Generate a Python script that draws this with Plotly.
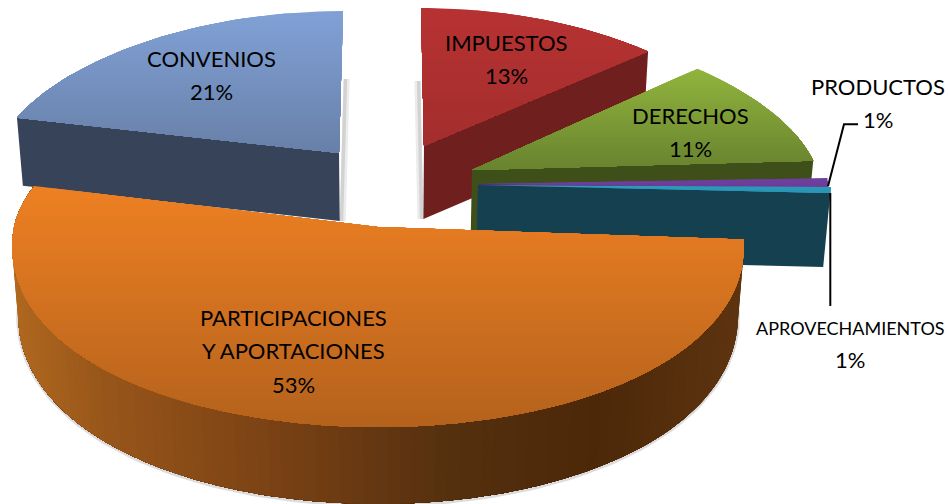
import math
import plotly.graph_objects as go

# ---- data ----
categories = ["IMPUESTOS", "DERECHOS", "PRODUCTOS", "APROVECHAMIENTOS", "PARTICIPACIONES Y APORTACIONES", "CONVENIOS"]
values = [13, 11, 1, 1, 53, 21]
label_lines = [["IMPUESTOS"], ["DERECHOS"], ["PRODUCTOS"], ["APROVECHAMIENTOS"],
               ["PARTICIPACIONES", "Y APORTACIONES"], ["CONVENIOS"]]

# ---- drawing style / projection parameters ----
W, H = 949, 504
VX = 385          # vanishing x of vertical edges
Q = 0.016         # lean of vertical edges
GEOM = [
    dict(ax=424, ay=146, R=333, ryb=138, ryf=138, p=.10, lean=-3, tilt=0, d=73, top=("#b73232", "#a32e2d"), wall="#6f1f1e", edge=1, shadow=-1),
    dict(ax=472, ay=170, R=345, ryb=148, ryf=148, p=.12, lean=-8, tilt=0, d=70, top=("#90b43d", "#69832f"), wall="#3f4f1a", edge=1, shadow=0),
    dict(ax=478, ay=184, R=350, ryb=143, ryf=143, p=0, lean=0, tilt=3, d=70, top=("#7040a0", "#6a3c98"), wall="#4f2d75", edge=1, shadow=0),
    dict(ax=478, ay=185, R=353, ryb=95, ryf=95, p=0, lean=0, tilt=2, d=74, top=("#2c9cbc", "#2a94b2"), wall="#144050", edge=1, shadow=0),
    dict(ax=378, ay=227, R=364, ryb=165, ryf=200, p=.10, lean=0, tilt=0, d=68, top=("#ee8022", "#b4621d"), wall=None, edge=None, shadow=0),
    dict(ax=339, ay=153, R=342, ryb=142, ryf=142, p=.10, lean=4, tilt=0, d=68, top=("#81a1d6", "#6880a8"), wall="#364359", edge=0, shadow=1),
]
DRAW_ORDER = [5, 0, 1, 2, 3, 4]
LABEL_POS = {0: (506, 42), 1: (690, 115), 2: (878, 86), 3: (850, 328), 4: (293, 317), 5: (211, 58)}
LABEL_SIZE = {3: 18}
LABEL_FONT = "Lato"
SIDE_STOPS = [(0.0, "#b0681f"), (0.12, "#98561a"), (0.35, "#7b4214"), (0.6, "#54300f"), (0.8, "#4c2809"), (1.0, "#5e3410")]


def hex2rgb(c):
    return tuple(int(c[i:i + 2], 16) for i in (1, 3, 5))


def mix(a, b, t):
    ra, rb = hex2rgb(a), hex2rgb(b)
    return "#%02x%02x%02x" % tuple(round(ra[i] + (rb[i] - ra[i]) * t) for i in range(3))


def stops(t):
    for (t0, c0), (t1, c1) in zip(SIDE_STOPS, SIDE_STOPS[1:]):
        if t <= t1:
            return mix(c0, c1, (t - t0) / (t1 - t0))
    return SIDE_STOPS[-1][1]


def rim(g, deg):
    th = math.radians(deg)
    s, c = math.sin(th), math.cos(th)
    x = g["ax"] + g["R"] * s * (1 - g["p"] * c) + g["lean"] * c
    y = g["ay"] - (g["ryb"] if c > 0 else g["ryf"]) * c + g["tilt"] * s
    return x, y


def down(pt, d):
    return pt[0] + (VX - pt[0]) * Q, pt[1] + d


def clip_below(poly, y0):
    out = []
    for i, p in enumerate(poly):
        q = poly[i - 1]
        if (p[1] >= y0) != (q[1] >= y0):
            out.append((q[0] + (p[0] - q[0]) * (y0 - q[1]) / (p[1] - q[1]), y0))
        if p[1] >= y0:
            out.append(p)
    return out


fig = go.Figure()


def fill(poly, color, name):
    xs = [p[0] for p in poly] + [poly[0][0]]
    ys = [p[1] for p in poly] + [poly[0][1]]
    fig.add_trace(go.Scatter(x=xs, y=ys, mode="lines", fill="toself", fillcolor=color,
                             line=dict(width=0), hoverinfo="skip",
                             showlegend=False, name=name))


# angles from the values, clockwise from twelve o'clock
total = sum(values)
bounds = [0.0]
for v in values:
    bounds.append(bounds[-1] + v / total * 360)

for i in DRAW_ORDER:
    g = GEOM[i]
    a0, a1 = bounds[i], bounds[i + 1]
    n = max(4, int((a1 - a0) / 1.5))
    angs = [a0 + (a1 - a0) * k / n for k in range(n + 1)]
    apex = (g["ax"], g["ay"])
    arc = [rim(g, a) for a in angs]

    if g["shadow"]:
        # soft grey edge next to the hidden cut face
        p = arc[0] if g["shadow"] < 0 else arc[-1]
        b0, b1 = down(p, g["d"]), down(apex, g["d"])
        for wid, col in ((6, "#ececec"), (3.5, "#d2d2d2")):
            off = wid * g["shadow"]
            fill([b0, b1, (b1[0] + off, b1[1]), (b0[0] + off, b0[1])], col, categories[i] + " shadow")

    if g["edge"] is not None:
        # the straight cut face looking at the viewer
        p = arc[-1] if g["edge"] == 1 else arc[0]
        fill([apex, p, down(p, g["d"]), down(apex, g["d"])], g["wall"], categories[i] + " wall")
    else:
        # the rounded outer wall, painted as overlapping bands
        steps = 110
        fine = [a0 + (a1 - a0) * k / steps for k in range(steps + 1)]
        pts = [rim(g, a) for a in fine]
        xmin, xmax = min(p[0] for p in pts), max(p[0] for p in pts)
        depth = [g["d"] - 9 * math.cos(math.radians(a)) for a in fine]
        low = [down(p, d) for p, d in zip(pts, depth)]
        fig.add_trace(go.Scatter(x=[p[0] for p in low], y=[p[1] + 1 for p in low], mode="lines",
                                 line=dict(color="#dcdcdc", width=4), hoverinfo="skip", showlegend=False))
        for k in range(steps):
            t = ((pts[k][0] + pts[k + 1][0]) / 2 - xmin) / (xmax - xmin)
            fill(pts[k:] + low[k:][::-1], stops(t), categories[i] + " wall")

    # top face, shaded by overlapping strips from top to bottom
    poly = [apex] + arc
    ymin, ymax = min(p[1] for p in poly), max(p[1] for p in poly)
    strips = max(1, int((ymax - ymin) / 2.5))
    for k in range(strips):
        y0 = ymin + (ymax - ymin) * k / strips
        part = clip_below(poly, y0) if k else poly
        if len(part) >= 3:
            fill(part, mix(g["top"][0], g["top"][1], (k + .5) / strips), categories[i])

# leader lines, anchored on the rim of their small slices
p2 = rim(GEOM[2], (bounds[2] + bounds[3]) / 2 + 1.5)
fig.add_trace(go.Scatter(x=[p2[0], p2[0] + 16, p2[0] + 30], y=[p2[1], p2[1] - 62, p2[1] - 62], mode="lines",
                         line=dict(color="#000000", width=2), hoverinfo="skip", showlegend=False))
p3 = rim(GEOM[3], bounds[4])
fig.add_trace(go.Scatter(x=[p3[0], p3[0]], y=[p3[1], p3[1] + 113], mode="lines",
                         line=dict(color="#000000", width=2), hoverinfo="skip", showlegend=False))

LINE_H = 33.5
for i, lines in enumerate(label_lines):
    x, y = LABEL_POS[i]
    rows = lines + [f"{round(values[i] / total * 100)}%"]
    for r, txt in enumerate(rows):
        size = LABEL_SIZE.get(i, 22) if r < len(rows) - 1 else 22
        fig.add_annotation(x=x, y=y + r * LINE_H if i != 3 else y + r * 31, text=txt, showarrow=False,
                           xanchor="center", yanchor="middle", xref="x", yref="y",
                           font=dict(family=LABEL_FONT, size=size, color="#000000"))

fig.update_layout(width=W, height=H, margin=dict(l=0, r=0, t=0, b=0), paper_bgcolor="#ffffff",
                  plot_bgcolor="#ffffff", showlegend=False,
                  xaxis=dict(range=[0, W], visible=False, fixedrange=True),
                  yaxis=dict(range=[H, 0], visible=False, fixedrange=True))
fig.write_html("out.html", config={"displayModeBar": False}, post_script="document.body.style.margin='0';")
